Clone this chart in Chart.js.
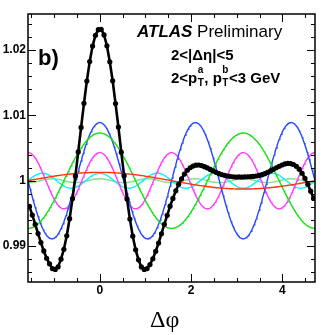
<!DOCTYPE html>
<html>
<head>
<meta charset="utf-8">
<script src="https://cdn.jsdelivr.net/npm/chart.js@4.4.1/dist/chart.umd.min.js"></script>
<style>
  html, body { margin: 0; padding: 0; background: #fff; }
</style>
</head>
<body>
<canvas id="corr-chart" width="326" height="335"></canvas>
<script>
// Δφ binning of the correlation function
const nBins = 100
const dphiMin = -Math.PI / 2
const dphiMax = 3 * Math.PI / 2

// C(Δφ), one value per bin
const correlation = [
    0.99607, 0.99473, 0.99333, 0.99191, 0.99052, 0.98924, 0.98812, 0.98727, 0.98655, 0.98642,
    0.98682, 0.98799, 0.98950, 0.99157, 0.99418, 0.99726, 1.00071, 1.00440, 1.00816, 1.01184,
    1.01525, 1.01823, 1.02061, 1.02227, 1.02312,
    1.02318, 1.02231, 1.02066, 1.01820, 1.01530, 1.01180, 1.00822, 1.00436, 1.00075, 0.99720,
    0.99412, 0.99150, 0.98942, 0.98790, 0.98680, 0.98640, 0.98655, 0.98716, 0.98805, 0.98920,
    0.99046, 0.99188, 0.99330, 0.99470, 0.99610,
    0.99728, 0.99845, 0.99944, 1.00030, 1.00102, 1.00160, 1.00198, 1.00224, 1.00238, 1.00240,
    1.00232, 1.00215, 1.00196, 1.00172, 1.00150, 1.00128, 1.00110, 1.00094, 1.00082, 1.00072,
    1.00064, 1.00060, 1.00056, 1.00057, 1.00055,
    1.00058, 1.00060, 1.00063, 1.00066, 1.00072, 1.00080, 1.00092, 1.00108, 1.00128, 1.00150,
    1.00174, 1.00198, 1.00220, 1.00240, 1.00256, 1.00264, 1.00262, 1.00248, 1.00220, 1.00176,
    1.00114, 1.00036, 0.99944, 0.99840, 0.99728
]

// Fourier components 1 + 2 v_n cos(n Δφ): harmonic order and amplitude 2v_n
const harmonicOrder = [1, 2, 3, 4, 5, 6]
const harmonicAmp = [0.00128, 0.0073, 0.0089, 0.0043, 0.00115, 0.0003]
const harmonicColor = ['#ff3512', '#14e014', '#2448ff', '#ff3cff', '#10eeff', '#86e086']

const xTickLabels = [0, 2, 4]
const yTickLabels = [0.99, 1, 1.01, 1.02]
const yMin = 0.98449
const yMax = 1.02552

const binWidth = (dphiMax - dphiMin) / nBins
const points = correlation.map((v, k) => ({ x: dphiMin + (k + 0.5) * binWidth, y: v }))

function harmonicCurve(n, amp) {
    const pts = []
    const steps = 400
    for (let i = 0; i <= steps; i++) {
        const x = dphiMin + (dphiMax - dphiMin) * i / steps
        pts.push({ x: x, y: 1 + amp * Math.cos(n * x) })
    }
    return pts
}

const datasets = [{
    label: 'data',
    data: points,
    showLine: true,
    borderColor: '#000',
    backgroundColor: '#000',
    borderWidth: 2.6,
    pointRadius: 2.6,
    pointBorderWidth: 0,
    tension: 0
}]

harmonicOrder.forEach((n, i) => {
    datasets.push({
        label: 'v' + n,
        data: harmonicCurve(n, harmonicAmp[i]),
        showLine: true,
        borderColor: harmonicColor[i],
        borderWidth: 1.4,
        pointRadius: 0,
        tension: 0
    })
})

const framePlugin = {
    id: 'frame',
    afterDraw(chart) {
        const { ctx, chartArea: a, scales: { x, y } } = chart
        ctx.save()
        ctx.strokeStyle = '#000'
        ctx.fillStyle = '#000'

        // y ticks, left and right, pointing inwards
        ctx.lineWidth = 1
        for (let i = 490; i <= 515; i++) {
            const v = i * 0.002
            if (v < yMin || v > yMax) continue
            const py = Math.round(y.getPixelForValue(v)) + 0.5
            const len = i % 5 === 0 ? 8 : 4
            ctx.beginPath()
            ctx.moveTo(a.left, py); ctx.lineTo(a.left + len, py)
            ctx.moveTo(a.right, py); ctx.lineTo(a.right - len, py)
            ctx.stroke()
        }
        // x ticks, top and bottom
        for (let i = -3; i <= 9; i++) {
            const v = i * 0.5
            if (v < dphiMin || v > dphiMax) continue
            const px = Math.round(x.getPixelForValue(v)) + 0.5
            const len = i % 4 === 0 ? 8 : 4
            ctx.beginPath()
            ctx.moveTo(px, a.bottom); ctx.lineTo(px, a.bottom - len)
            ctx.moveTo(px, a.top); ctx.lineTo(px, a.top + len)
            ctx.stroke()
        }

        ctx.lineWidth = 1.5
        ctx.strokeRect(a.left, a.top, a.right - a.left, a.bottom - a.top)

        // tick labels
        ctx.font = 'bold 12px "Liberation Sans"'
        ctx.textAlign = 'right'
        ctx.textBaseline = 'middle'
        yTickLabels.forEach(v => ctx.fillText(String(v), a.left - 2, y.getPixelForValue(v)))
        ctx.textAlign = 'center'
        xTickLabels.forEach(v => ctx.fillText(String(v), x.getPixelForValue(v), a.bottom + 9))

        // axis title
        ctx.textAlign = 'left'
        ctx.textBaseline = 'alphabetic'
        ctx.font = '24px "Liberation Serif"'
        ctx.fillText('Δφ', 150, 327)

        // panel label and ATLAS text
        ctx.font = 'bold 22px "Liberation Sans"'
        ctx.fillText('b)', 38, 65)

        ctx.font = 'italic bold 17px "Liberation Sans"'
        ctx.fillText('ATLAS', 137, 37)
        let w = ctx.measureText('ATLAS ').width
        ctx.font = '17px "Liberation Sans"'
        ctx.fillText('Preliminary', 137 + w, 37)

        ctx.font = 'bold 15px "Liberation Sans"'
        ctx.fillText('2<|Δη|<5', 171, 60)

        // 2<p_T^a, p_T^b<3 GeV
        let cx = 171
        const base = 83
        const piece = (t) => {
            ctx.font = 'bold 15px "Liberation Sans"'
            ctx.fillText(t, cx, base)
            cx += ctx.measureText(t).width
        }
        const scripts = (sup, sub) => {
            ctx.font = 'bold 10px "Liberation Sans"'
            ctx.fillText(sup, cx + 0.5, base - 10)
            ctx.fillText(sub, cx + 0.5, base + 3)
            cx += Math.max(ctx.measureText(sup).width, ctx.measureText(sub).width) + 1
        }
        piece('2<p')
        scripts('a', 'T')
        piece(', p')
        scripts('b', 'T')
        piece('<3 GeV')

        ctx.restore()
    }
}

const ctx = document.getElementById('corr-chart').getContext('2d')
new Chart(ctx, {
    type: 'scatter',
    data: { datasets: datasets },
    options: {
        responsive: false,
        animation: false,
        layout: { padding: { left: 28, top: 14, right: 11, bottom: 53 } },
        plugins: {
            legend: { display: false },
            tooltip: { enabled: false }
        },
        scales: {
            x: { type: 'linear', min: dphiMin, max: dphiMax, display: false },
            y: { type: 'linear', min: yMin, max: yMax, display: false }
        }
    },
    plugins: [framePlugin]
})
</script>
</body>
</html>
